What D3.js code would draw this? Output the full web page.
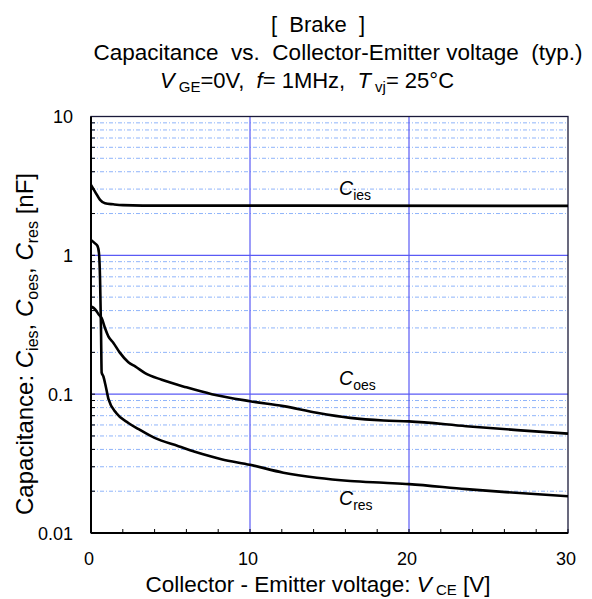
<!DOCTYPE html>
<html><head><meta charset="utf-8">
<script src="https://cdn.jsdelivr.net/npm/d3@7"></script>
<style>
body{margin:0;background:#fff}
svg{display:block;font-family:"Liberation Sans",Arial,sans-serif}
text{white-space:pre}
</style></head>
<body><svg id="c" width="592" height="599"></svg>
<script>
// ---- data ----
const xTicks = [0, 10, 20, 30];
const yTicks = [0.01, 0.1, 1, 10];
const yTickLabels = ["0.01", "0.1", "1", "10"];

const vCies = [0, 0.25, 0.57, 0.88, 1.4, 2, 4.5, 13, 30];
const cCies = [3.21, 2.88, 2.51, 2.37, 2.33, 2.30, 2.28, 2.28, 2.27];

// curve that starts high and falls steeply onto the lower branch
const vSteep = [0, 0.25, 0.42, 0.5, 0.57, 0.63, 0.67, 0.78, 0.92, 1.1, 1.6, 2.35, 3, 4, 5.5, 7, 8.2, 10, 12.1, 14.2, 16.3, 18.4, 20, 23.6, 26.1, 30];
const cSteep = [1.29, 1.22, 1.16, 1.04, 0.67, 0.29, 0.143, 0.134, 0.115, 0.092, 0.073, 0.062, 0.056, 0.0484, 0.0422, 0.037, 0.034, 0.031, 0.0272, 0.025, 0.0237, 0.023, 0.0225, 0.0207, 0.0197, 0.0184];

// curve that starts at ~0.42 and decays onto the middle branch
const vMid = [0, 0.25, 0.5, 0.67, 0.88, 1.1, 1.4, 1.8, 2.35, 2.8, 3.4, 4.45, 6, 7.6, 10, 12.1, 14.2, 16.3, 18.4, 20, 23.6, 26.8, 30];
const cMid = [0.428, 0.41, 0.373, 0.353, 0.30, 0.26, 0.235, 0.20, 0.17, 0.158, 0.142, 0.127, 0.112, 0.100, 0.089, 0.082, 0.0735, 0.0675, 0.0646, 0.0637, 0.0588, 0.0551, 0.052];

const labels = [
  {sub: "ies", v: 15.6, c: 2.72},
  {sub: "oes", v: 15.6, c: 0.116},
  {sub: "res", v: 15.6, c: 0.0158}
];

// ---- drawing ----
const svg = d3.select("#c");
const L = 91, R = 568, T = 116.5, B = 533;
const x = d3.scaleLinear().domain([0, 30]).range([L, R]);
const y = d3.scaleLog().domain([0.01, 10]).range([B, T]);

// minor horizontal grid
const minors = [];
[0.01, 0.1, 1].forEach(d => { for (let k = 2; k <= 9; k++) minors.push(d * k); });
svg.append("g").selectAll("line").data(minors).join("line")
  .attr("x1", L).attr("x2", R).attr("y1", d => y(d)).attr("y2", d => y(d))
  .attr("stroke", "#8fb4fa").attr("stroke-width", 1).attr("stroke-dasharray", "4,2,1,2");
// major grid
svg.append("g").selectAll("line").data([0.1, 1]).join("line")
  .attr("x1", L).attr("x2", R).attr("y1", d => y(d)).attr("y2", d => y(d))
  .attr("stroke", "#5a5af5").attr("stroke-width", 1.2);
svg.append("g").selectAll("line").data([10, 20]).join("line")
  .attr("y1", T).attr("y2", B).attr("x1", d => x(d)).attr("x2", d => x(d))
  .attr("stroke", "#5a5af5").attr("stroke-width", 1.2);

// ticks (inward)
const xMinor = d3.range(0, 31, 2);
svg.append("g").selectAll("line").data(xMinor).join("line")
  .attr("x1", d => x(d)).attr("x2", d => x(d)).attr("y1", B).attr("y2", B - 4)
  .attr("stroke", "#000").attr("stroke-width", 1);
svg.append("g").selectAll("line").data(minors.concat([0.1, 1])).join("line")
  .attr("x1", L).attr("x2", L + 4).attr("y1", d => y(d)).attr("y2", d => y(d))
  .attr("stroke", "#000").attr("stroke-width", 1);

// frame
svg.append("rect").attr("x", L).attr("y", T).attr("width", R - L).attr("height", B - T)
  .attr("fill", "none").attr("stroke", "#1a1a3a").attr("stroke-width", 1.3);
svg.append("line").attr("x1", L).attr("x2", L).attr("y1", T).attr("y2", B).attr("stroke", "#000").attr("stroke-width", 2);
svg.append("line").attr("x1", L).attr("x2", R).attr("y1", B).attr("y2", B).attr("stroke", "#000").attr("stroke-width", 2);

// curves
const line = d3.line().x(d => x(d[0])).y(d => y(d[1])).curve(d3.curveMonotoneX);
[[vCies, cCies], [vSteep, cSteep], [vMid, cMid]].forEach(([vs, cs]) => {
  svg.append("path").datum(vs.map((v, i) => [v, cs[i]])).attr("d", line)
    .attr("fill", "none").attr("stroke", "#000").attr("stroke-width", 2.6).attr("stroke-linejoin", "round");
});

// curve labels
labels.forEach(l => {
  const t = svg.append("text").attr("x", x(l.v)).attr("y", y(l.c)).attr("font-size", 19.5);
  t.append("tspan").attr("font-style", "italic").text("C");
  t.append("tspan").attr("font-size", 14).attr("dy", 5).text(l.sub);
});

// tick labels
svg.append("g").selectAll("text").data(xTicks).join("text")
  .attr("x", d => x(d) - 2).attr("y", 565).attr("text-anchor", "middle").attr("font-size", 18).text(d => d);
svg.append("g").selectAll("text").data(yTicks).join("text")
  .attr("x", 73).attr("y", d => y(d) + 6.5).attr("text-anchor", "end").attr("font-size", 18)
  .text((d, i) => yTickLabels[i]);

// titles
svg.append("text").attr("x", 318).attr("y", 32).attr("text-anchor", "middle").attr("font-size", 22)
  .attr("xml:space", "preserve").text("[  Brake  ]");
svg.append("text").attr("x", 338).attr("y", 60).attr("text-anchor", "middle").attr("font-size", 22.5)
  .attr("xml:space", "preserve").text("Capacitance  vs.  Collector-Emitter voltage  (typ.)");
{
  const t = svg.append("text").attr("x", 307).attr("y", 88).attr("text-anchor", "middle").attr("font-size", 22).attr("xml:space", "preserve");
  t.append("tspan").attr("font-style", "italic").text("V");
  t.append("tspan").attr("font-size", 15).attr("dy", 4).text(" GE");
  t.append("tspan").attr("dy", -4).text("=0V,  ");
  t.append("tspan").attr("font-style", "italic").text("f");
  t.append("tspan").text("= 1MHz,  ");
  t.append("tspan").attr("font-style", "italic").text("T");
  t.append("tspan").attr("font-size", 15).attr("dy", 4).text(" vj");
  t.append("tspan").attr("dy", -4).text("= 25°C");
}
{
  const t = svg.append("text").attr("x", 318).attr("y", 592).attr("text-anchor", "middle").attr("font-size", 22.5).attr("xml:space", "preserve");
  t.append("tspan").text("Collector - Emitter voltage: ");
  t.append("tspan").attr("font-style", "italic").text("V");
  t.append("tspan").attr("font-size", 15).attr("dy", 3).text(" CE");
  t.append("tspan").attr("dy", -3).text(" [V]");
}
{
  const t = svg.append("text").attr("transform", "translate(33,344) rotate(-90)").attr("text-anchor", "middle").attr("font-size", 24).attr("xml:space", "preserve");
  t.append("tspan").text("Capacitance: ");
  t.append("tspan").attr("font-style", "italic").text("C");
  t.append("tspan").attr("font-size", 16).attr("dy", 5).text("ies");
  t.append("tspan").attr("dy", -5).text(", ");
  t.append("tspan").attr("font-style", "italic").text("C");
  t.append("tspan").attr("font-size", 16).attr("dy", 5).text("oes");
  t.append("tspan").attr("dy", -5).text(", ");
  t.append("tspan").attr("font-style", "italic").text("C");
  t.append("tspan").attr("font-size", 16).attr("dy", 5).text("res");
  t.append("tspan").attr("dy", -5).text(" [nF]");
}
</script></body></html>
